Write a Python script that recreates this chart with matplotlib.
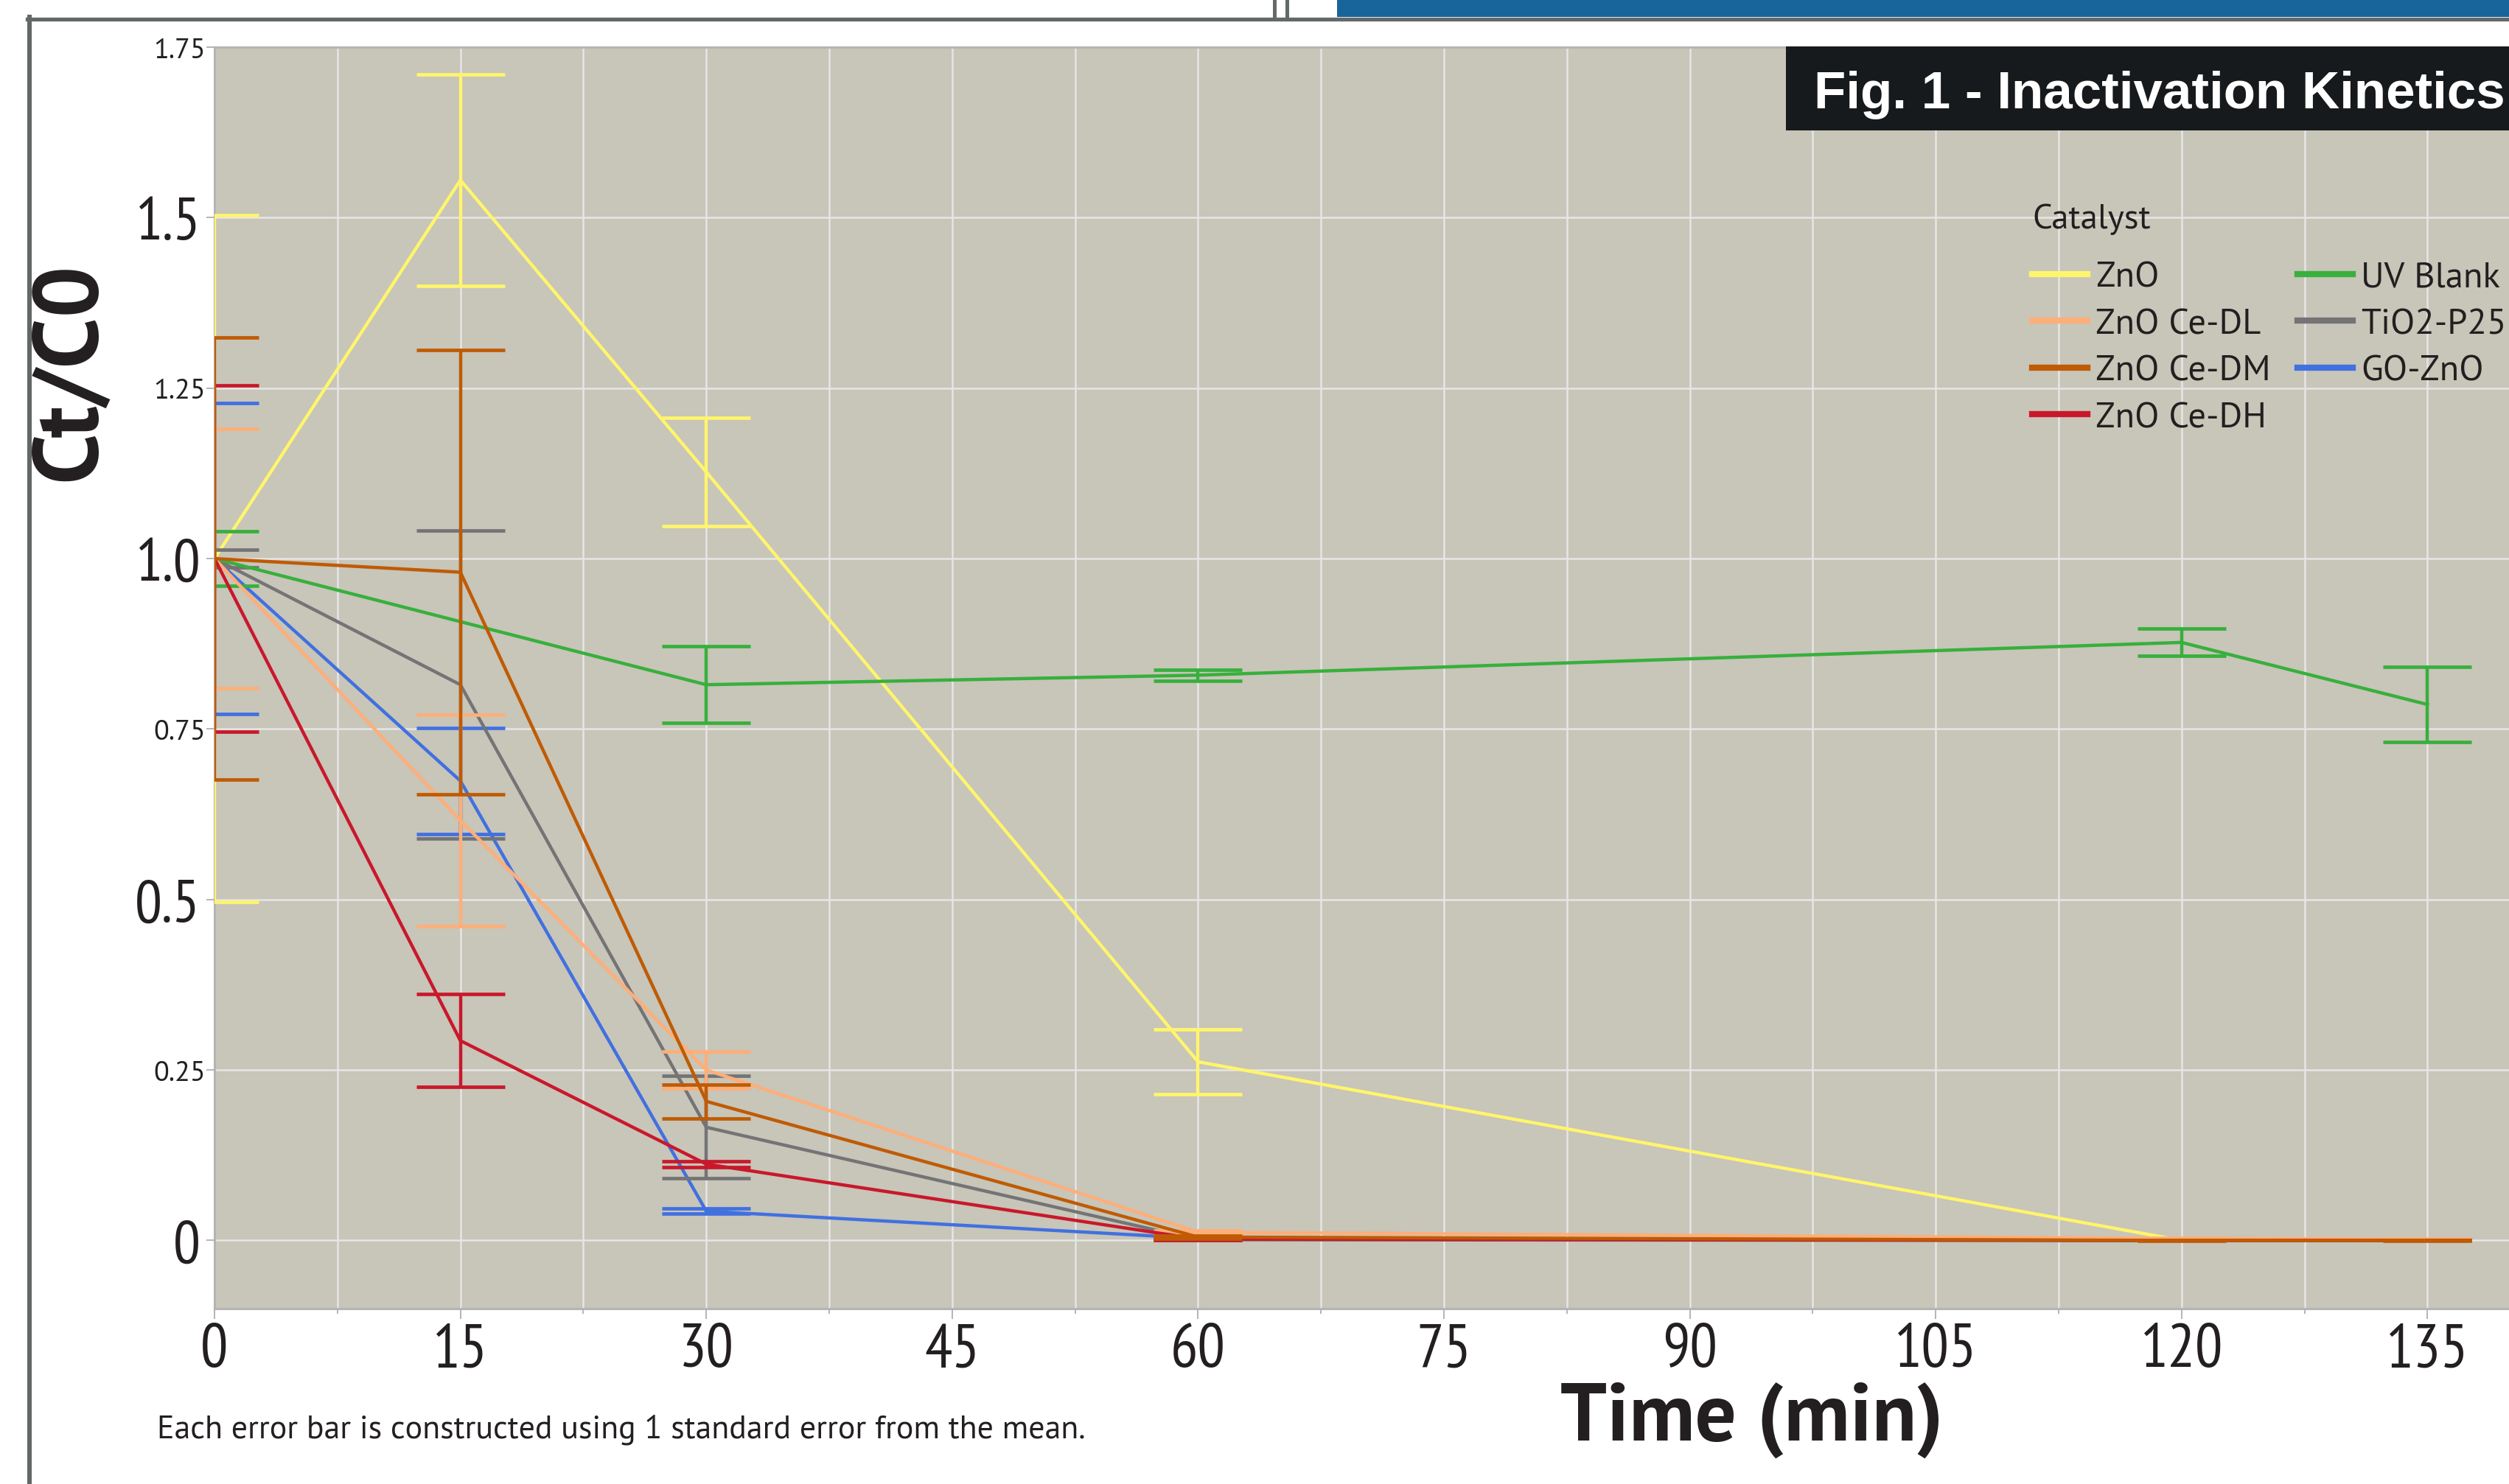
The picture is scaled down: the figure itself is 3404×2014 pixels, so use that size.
import os
import matplotlib
matplotlib.use('Agg')
import matplotlib.pyplot as plt
from matplotlib import font_manager as fm
from matplotlib.lines import Line2D
from matplotlib.patches import Rectangle
from matplotlib.ticker import FixedLocator, FixedFormatter

# ---------------- data ----------------
times = [0, 15, 30, 60, 120, 135]
uv_times = [0, 30, 60, 120, 135]

zno = [1.0, 1.555, 1.127, 0.262, 0.0, 0.0]
zno_err = [0.504, 0.155, 0.079, 0.048, 0.0, 0.0]
ce_dl = [1.0, 0.616, 0.250, 0.012, 0.003, 0.002]
ce_dl_err = [0.190, 0.155, 0.027, 0.003, 0.001, 0.001]
ce_dm = [1.0, 0.980, 0.204, 0.005, 0.0, 0.0]
ce_dm_err = [0.324, 0.326, 0.025, 0.002, 0.001, 0.001]
ce_dh = [1.0, 0.293, 0.112, 0.002, 0.0, 0.0]
ce_dh_err = [0.254, 0.068, 0.004, 0.001, 0.0, 0.0]
uv_blank = [1.0, 0.815, 0.829, 0.877, 0.786]
uv_blank_err = [0.040, 0.056, 0.008, 0.020, 0.055]
tio2 = [1.0, 0.815, 0.166, 0.001, 0.0, 0.0]
tio2_err = [0.013, 0.226, 0.075, 0.001, 0.0, 0.0]
go_zno = [1.0, 0.674, 0.043, 0.003, 0.0, 0.0]
go_zno_err = [0.228, 0.078, 0.004, 0.001, 0.0, 0.0]

labels = ['ZnO', 'ZnO Ce-DL', 'ZnO Ce-DM', 'ZnO Ce-DH', 'UV Blank', 'TiO2-P25', 'GO-ZnO']
colors = ['#fff56c', '#ffae78', '#bf5b04', '#c9182b', '#37b03c', '#747476', '#4170e0']

x_major = [0, 15, 30, 45, 60, 75, 90, 105, 120, 135]
x_major_labels = ['0', '15', '30', '45', '60', '75', '90', '105', '120', '135']
x_minor = [7.5, 22.5, 37.5, 52.5, 67.5, 82.5, 97.5, 112.5, 127.5, 142.5]
y_major = [0, 0.5, 1.0, 1.5]
y_major_labels = ['0', '0.5', '1.0', '1.5']
y_minor = [0.25, 0.75, 1.25, 1.75]
y_minor_labels = ['0.25', '0.75', '1.25', '1.75']

# ---------------- fonts ----------------
files = [f.fname for f in fm.fontManager.ttflist]
def find(name):
    for fn in files:
        if os.path.basename(fn).lower() == name.lower():
            return fn
    return None

NARROW = find('PT_Sans-Narrow-Web-Regular.ttf')
PTSANS = find('PT_Sans-Web-Regular.ttf')
PTSANS_B = find('PT_Sans-Web-Bold.ttf')

def fp(size, fname, weight='normal'):
    if fname:
        return fm.FontProperties(fname=fname, size=size)
    return fm.FontProperties(family=['Open Sans', 'DejaVu Sans'], size=size, weight=weight)

TXT = '#231f20'
W, H = 3404, 2015
fig = plt.figure(figsize=(W / 100, H / 100), dpi=100)
fig.patch.set_facecolor('white')
def fx(px):
    return px / W
def fy(py):
    return 1 - py / H

xmax = 141
ax = fig.add_axes([fx(291), fy(1777), xmax * 22.24 / W, (1777 - 65) / H])
ax.set_xlim(0, xmax)
ax.set_ylim(-0.1, 1.75)
ax.set_facecolor('#c8c5b9')
ax.set_axisbelow(True)

ax.xaxis.set_major_locator(FixedLocator(x_major))
ax.xaxis.set_major_formatter(FixedFormatter(x_major_labels))
ax.xaxis.set_minor_locator(FixedLocator(x_minor))
ax.yaxis.set_major_locator(FixedLocator(y_major))
ax.yaxis.set_major_formatter(FixedFormatter(y_major_labels))
ax.yaxis.set_minor_locator(FixedLocator(y_minor))
ax.yaxis.set_minor_formatter(FixedFormatter(y_minor_labels))
ax.grid(True, which='both', color='#e6e6e6', lw=1.8)

for s in ['top', 'left', 'bottom']:
    ax.spines[s].set_color('#b4b4b4')
    ax.spines[s].set_linewidth(2.2)
ax.spines['right'].set_visible(False)

ax.tick_params(axis='x', which='major', length=10, width=1.4, color='#b4b4b4', pad=4, labelcolor=TXT)
ax.tick_params(axis='x', which='minor', length=5, width=1.4, color='#b4b4b4')
ax.tick_params(axis='y', which='major', length=8, width=1.4, color='#b4b4b4', pad=6, labelcolor=TXT)
ax.tick_params(axis='y', which='minor', length=8, width=1.4, color='#b4b4b4', pad=1, labelcolor=TXT)

for lbl in ax.get_xticklabels():
    lbl.set_fontproperties(fp(60, NARROW))
for lbl in ax.get_yticklabels():
    lbl.set_fontproperties(fp(59, NARROW))
for lbl in ax.get_yticklabels(minor=True):
    lbl.set_fontproperties(fp(27.5, PTSANS))

series = [
    (times, zno, zno_err, 0),
    (times, go_zno, go_zno_err, 6),
    (times, tio2, tio2_err, 5),
    (uv_times, uv_blank, uv_blank_err, 4),
    (times, ce_dl, ce_dl_err, 1),
    (times, ce_dh, ce_dh_err, 3),
    (times, ce_dm, ce_dm_err, 2),
]
for i, (t, v, e, k) in enumerate(series):
    ax.errorbar(t, v, yerr=e, color=colors[k], lw=3.2, capsize=43, capthick=3.4,
                elinewidth=3.2, zorder=3 + i)

LEG_FS = 35
handles = [Line2D([], [], color=c, lw=6) for c in colors]
leg = ax.legend(handles, labels, ncol=2, title='Catalyst', loc='upper left',
                bbox_to_anchor=(fx(2757), fy(277)), bbox_transform=fig.transFigure,
                frameon=False, prop=fp(LEG_FS, PTSANS), handlelength=1.55, handletextpad=0.22,
                columnspacing=0.75, labelspacing=0.4, borderpad=0, borderaxespad=0,
                alignment='left')
leg.get_title().set_fontproperties(fp(34, PTSANS))
leg.get_title().set_color(TXT)
for t in leg.get_texts():
    t.set_color(TXT)
try:
    leg._legend_box.sep = 0.4 * LEG_FS + 12
except Exception:
    pass

# axis labels and notes
fig.text(fx(97), fy(504), 'Ct/C0', rotation=90, ha='center', va='center',
         fontproperties=fp(89, PTSANS_B, 'bold'), color=TXT)
fig.text(fx(2377), fy(1955), 'Time (min)', ha='center', va='baseline',
         fontproperties=fp(80, PTSANS_B, 'bold'), color=TXT)
fig.text(fx(213), fy(1952), 'Each error bar is constructed using 1 standard error from the mean.',
         ha='left', va='baseline', fontproperties=fp(31.6, PTSANS), color=TXT)

# page decorations
fig.add_artist(Line2D([fx(40), fx(40)], [fy(24), 0], transform=fig.transFigure, color='#646869', lw=4.4))
fig.add_artist(Line2D([fx(37), 1], [fy(26.5), fy(26.5)], transform=fig.transFigure, color='#646869', lw=3.8))
for xx in [1729, 1746]:
    fig.add_artist(Line2D([fx(xx), fx(xx)], [1, fy(24)], transform=fig.transFigure, color='#646869', lw=3.6))
fig.add_artist(Rectangle((fx(1814), fy(24)), 1 - fx(1814) + 0.01, 24 / H, transform=fig.transFigure,
                         color='#17659a', lw=0))
fig.add_artist(Rectangle((fx(2423), fy(178)), 1 - fx(2423) + 0.01, (178 - 64) / H,
                         transform=fig.transFigure, color='#171a1c', lw=0, zorder=5))
fig.text(fx(2461), fy(147), 'Fig. 1 - Inactivation Kinetics', color='white', ha='left', va='baseline',
         family='Liberation Sans', weight='bold', fontsize=51, zorder=6)

fig.savefig('out.png', dpi=100)
